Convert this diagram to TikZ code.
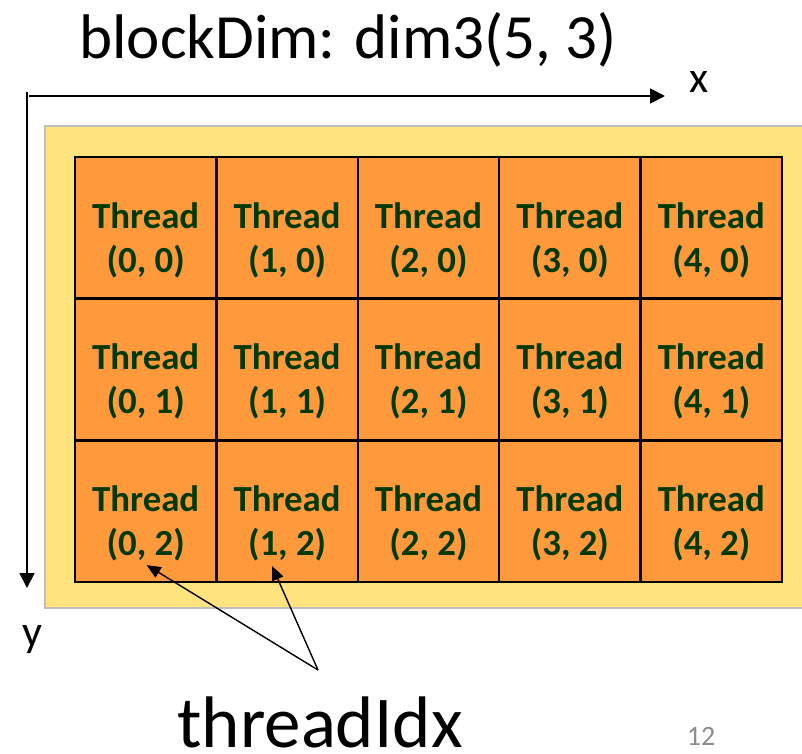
\documentclass[tikz,border=0pt]{standalone}
\usepackage{fontspec}
\setmainfont{Carlito}
\usetikzlibrary{arrows.meta,calc}
\definecolor{blockfill}{HTML}{FFE37F}
\definecolor{blockedge}{HTML}{BFBFBF}
\definecolor{threadfill}{HTML}{FF9A3C}
\definecolor{threadtext}{HTML}{003A00}
\definecolor{pagenum}{HTML}{8C8C8C}

\begin{document}
\begin{tikzpicture}[x=1pt,y=-1pt,
  cellbox/.style={draw=black,line width=2.5pt,fill=threadfill,
    minimum width=141.4pt,minimum height=141.7pt,inner sep=0pt,outer sep=0pt},
  celltext/.style={text=threadtext,font=\fontsize{36.8}{45}\selectfont\bfseries,
    anchor=base,inner sep=0pt},
  axis/.style={line width=1.8pt,-{Triangle[length=15pt,width=15pt]}},
  pointer/.style={line width=1.4pt,-{Triangle[length=14pt,width=12pt]}},
  plain/.style={anchor=base,inner sep=0pt},
]
\useasboundingbox (0,0) rectangle (802,753);

% block background
\fill[blockfill,draw=blockedge,line width=1.8pt] (45,126) rectangle (812,608);

% 5 x 3 thread grid
\foreach \j in {0,1,2}{
  \foreach \i in {0,...,4}{
    \node[cellbox] (c-\i-\j) at ({75+141.4*(\i+0.5)},{157+141.7*(\j+0.5)}) {};
    \node[celltext] (ta-\i-\j) at ($(c-\i-\j.north)+(0,71)$) {Thread};
    \node[celltext] (tb-\i-\j) at ($(c-\i-\j.north)+(0,115)$) {(\i, \j)};
  }
}

% title
\node[plain,font=\fontsize{63}{75}\selectfont] (title) at (348,58) {blockDim: dim3(5, 3)};

% axes
\coordinate (xstart) at (29,96);
\coordinate (xend) at (665,96);
\coordinate (ystart) at (27,92);
\coordinate (yend) at (27,588);
\draw[axis] (xstart) -- (xend);
\draw[axis] (ystart) -- (yend);
\node[plain,font=\fontsize{44}{52}\selectfont] (xlab) at (699,92) {x};
\node[plain,font=\fontsize{44}{52}\selectfont] (ylab) at (32,646) {y};

% threadIdx pointers
\coordinate (apex) at (318,670);
\coordinate (tipA) at ($(c-0-2.south)+(1,-17)$);
\coordinate (tipB) at ($(c-1-2.south)+(-15,-16)$);
\draw[pointer] (apex) -- (tipA);
\draw[pointer] (apex) -- (tipB);
\node[plain,font=\fontsize{73}{86}\selectfont] (idx) at (320,747) {threadIdx};

% page number
\node[plain,text=pagenum,font=\fontsize{28}{34}\selectfont] (pnum) at (701,745) {12};
\end{tikzpicture}
\end{document}
